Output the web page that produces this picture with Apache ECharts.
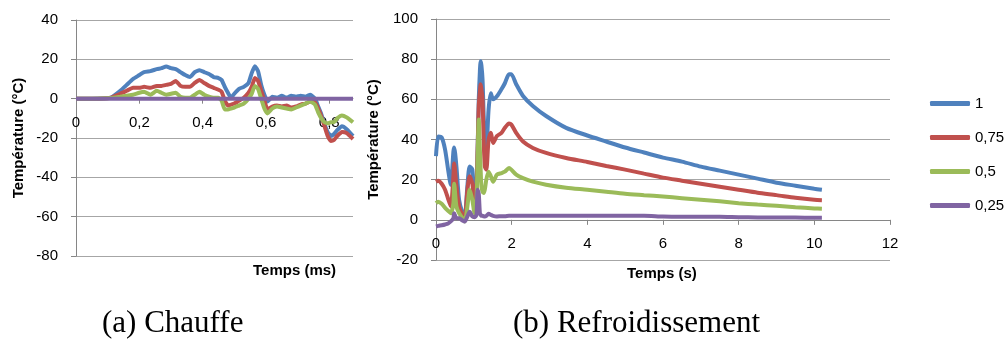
<!DOCTYPE html>
<html>
<head>
<meta charset="utf-8">
<script src="https://cdn.jsdelivr.net/npm/echarts@6/dist/echarts.min.js"></script>
<style>
html,body{margin:0;padding:0;background:#fff;}
#chart{width:1005px;height:342px;}
</style>
</head>
<body>
<div id="chart"></div>
<script>
// ---------- Data: (a) Chauffe ----------
const heatTime = [0, 0.05, 0.11, 0.14, 0.16, 0.18, 0.2, 0.215, 0.235, 0.255, 0.27, 0.285, 0.3, 0.315, 0.33, 0.345, 0.36, 0.375, 0.39, 0.405, 0.42, 0.435, 0.45, 0.46, 0.47, 0.48, 0.49, 0.5, 0.515, 0.53, 0.545, 0.555, 0.565, 0.575, 0.585, 0.595, 0.605, 0.62, 0.635, 0.65, 0.665, 0.68, 0.695, 0.71, 0.725, 0.74, 0.755, 0.765, 0.775, 0.785, 0.795, 0.805, 0.815, 0.825, 0.84, 0.855, 0.875];
const heat1 = [0, 0, 0.5, 4, 7, 10, 12, 13.5, 14, 15, 15.5, 16.3, 15.5, 15, 13.5, 12, 11, 13.5, 14.5, 13.5, 12.5, 11, 10.5, 9.5, 6, 3, 0.5, 2.5, 5, 6, 8, 13, 16.5, 14, 7, 2, -1.5, 1, 0.5, 1.5, 0.5, 1.5, 1, 1.5, 1, 2, 0, -4, -8, -13, -17, -19, -18, -16, -14, -15.5, -19];
const heat075 = [0, 0, 0.5, 2.5, 4, 5.5, 5.5, 6, 5.5, 6.5, 6.5, 7, 7.5, 9, 6.5, 6, 6, 8, 9.5, 8, 6.5, 5.5, 4.5, 3.5, -1, -3.5, -3, -2.5, -1, 0.5, 3, 6, 10.5, 9, 4, -1, -5.5, -4, -3.5, -4, -3.5, -4.5, -4, -3, -2.5, -1.5, -2, -5, -9, -14, -19, -21.5, -21, -19, -17, -17.5, -20.5];
const heat05 = [0, 0, 0.3, 1, 1.5, 2, 3, 3.5, 2, 4, 3, 2, 2.5, 3, 1, 0.5, 0.5, 2, 3.5, 2, 1, 0.5, 0.5, -1, -5.5, -5.5, -5, -4.5, -3.5, -2.5, 0, 2.5, 6.5, 5, 0, -5, -7.5, -5, -4, -4.5, -5, -5.5, -4.5, -3.5, -2.5, -1.5, -3, -7, -10, -12, -12.5, -12, -12, -10, -8.5, -9.5, -12];
const heat025 = [0, 0, 0, 0, 0, 0, 0, 0, 0, 0, 0, 0, 0, 0, 0, 0, 0, 0, 0, 0, 0, 0, 0, 0, 0, 0, 0, 0, 0, 0, 0, 0, 0, 0, 0, 0, 0, 0, 0, 0, 0, 0, 0, 0, 0, 0, 0, 0, 0, 0, 0, 0, 0, 0, 0, 0, 0];

// ---------- Data: (b) Refroidissement ----------
const coolTime = [0, 0.06, 0.15, 0.24, 0.32, 0.39, 0.46, 0.48, 0.54, 0.61, 0.7, 0.76, 0.83, 0.89, 0.96, 1.02, 1.07, 1.1, 1.13, 1.16, 1.18, 1.2, 1.23, 1.26, 1.29, 1.33, 1.39, 1.45, 1.51, 1.61, 1.73, 1.82, 1.93, 1.99, 2.12, 2.3, 2.56, 2.91, 3.44, 4, 4.5, 5, 5.5, 6, 6.5, 7, 7.5, 8, 8.5, 9, 9.5, 10, 10.2];
const cool1 = [31.7, 41.5, 41, 35, 25, 17.5, 34, 36, 26.5, 10, 3.5, 2, 17, 26.5, 25, 10, 14, 35, 60, 74, 79, 77, 70, 52, 40, 35, 55, 63, 60, 61.5, 65, 68, 72.5, 72.5, 67.5, 61.7, 56.7, 51.7, 45.8, 42, 39, 36, 33.5, 31, 29, 26.5, 24.5, 22.5, 20.5, 18.5, 17, 15.5, 15];
const cool075 = [19, 19.5, 18, 15, 10.5, 6.7, 21.7, 28, 17, 6.7, 2.5, 1, 15, 21.7, 18, 6.7, 16.7, 35, 56.7, 64, 67.5, 65, 60, 40, 26.7, 25, 40, 43.3, 38.3, 41.7, 43.3, 45.8, 48, 47.5, 43.3, 39, 35.8, 33.3, 30.8, 28.8, 26.8, 25, 23, 21, 19.5, 18, 16.5, 15, 13.5, 12.3, 11, 10, 9.8];
const cool05 = [8.3, 9, 8, 6, 4.5, 3.3, 8.3, 18, 6.7, 3.3, 0.8, -0.8, 6.7, 15, 10, 3.3, 10, 30, 50, 35, 25, 16.7, 14, 13.3, 15, 20, 24, 21.7, 19, 22.5, 23.3, 24, 25.8, 25, 22.5, 20.8, 19, 17.5, 16, 15, 14, 13, 12.3, 11.6, 10.8, 10, 9.2, 8.3, 7.6, 7, 6.3, 5.7, 5.5];
const cool025 = [-3.3, -3, -2.7, -2.3, -1.8, -0.8, 0.8, 3.3, 0.8, 0.8, -0.3, -0.8, 1.7, 4, 1.7, 1.3, 2.5, 15, 13, 3.3, 2.5, 2, 2, 1.8, 1.7, 2, 3, 2.5, 2, 1.7, 1.8, 1.8, 2, 2, 2, 2, 2, 2, 2, 2, 2, 2, 2, 1.6, 1.5, 1.5, 1.5, 1.3, 1.2, 1.2, 1.1, 1, 1];

const seriesNames = ['1', '0,75', '0,5', '0,25'];
const heatYTicks = {min: -80, max: 40, interval: 20};
const coolYTicks = {min: -20, max: 100, interval: 20};
const coolXTicks = {min: 0, max: 12, interval: 2};
const heatXTicks = {min: 0, max: 0.875, interval: 0.2};

const colors = ['#4F81BD', '#C0504D', '#9BBB59', '#8064A2'];

function zip(xs, ys) { return xs.map((x, i) => [x, ys[i]]); }
const comma = v => String(+(+v).toFixed(2)).replace('.', ',');

// grid geometry (pixels)
const gHeat = {left: 76, top: 20, width: 277, height: 236};
const gCool = {left: 436, top: 19, width: 454, height: 241};
// distance from grid bottom to the y = 0 line, so the x axis sits on zero
const heatZeroOffset = -gHeat.height * (0 - heatYTicks.min) / (heatYTicks.max - heatYTicks.min);
const coolZeroOffset = -gCool.height * (0 - coolYTicks.min) / (coolYTicks.max - coolYTicks.min);

const labelFont = {fontFamily: 'Liberation Sans', fontSize: 15, color: '#000'};
const gridLine = {show: true, lineStyle: {color: '#a6a6a6', width: 1}};
const xAxisLine = {show: true, onZero: false, lineStyle: {color: '#868686', width: 1}};
const tick = {show: true, length: 5, inside: false, lineStyle: {color: '#868686'}};

const heatData = [heat1, heat075, heat05, heat025];
const coolData = [cool1, cool075, cool05, cool025];

const series = [];
heatData.forEach((d, i) => series.push({
  type: 'line', name: seriesNames[i], xAxisIndex: 0, yAxisIndex: 0,
  data: zip(heatTime, d), showSymbol: false, symbol: 'none',
  lineStyle: {width: 4, color: colors[i]}, itemStyle: {color: colors[i]},
  smooth: 0.15, animation: false
}));
coolData.forEach((d, i) => series.push({
  type: 'line', name: seriesNames[i], xAxisIndex: 1, yAxisIndex: 1,
  data: zip(coolTime, d), showSymbol: false, symbol: 'none',
  lineStyle: {width: 4, color: colors[i]}, itemStyle: {color: colors[i]},
  smooth: 0.25, animation: false
}));

const chart = echarts.init(document.getElementById('chart'), null, {renderer: 'canvas'});
chart.setOption({
  backgroundColor: '#fff',
  animation: false,
  color: colors,
  grid: [gHeat, gCool],
  xAxis: [
    {type: 'value', gridIndex: 0, position: 'bottom', offset: heatZeroOffset,
     min: heatXTicks.min, max: heatXTicks.max, interval: heatXTicks.interval,
     axisLine: xAxisLine, axisTick: tick, splitLine: {show: false},
     axisLabel: Object.assign({margin: 17, showMaxLabel: false, formatter: comma}, labelFont)},
    {type: 'value', gridIndex: 1, position: 'bottom', offset: coolZeroOffset,
     min: coolXTicks.min, max: coolXTicks.max, interval: coolXTicks.interval,
     axisLine: xAxisLine, axisTick: tick, splitLine: {show: false},
     axisLabel: Object.assign({margin: 17, formatter: comma}, labelFont)}
  ],
  yAxis: [
    {type: 'value', gridIndex: 0, min: heatYTicks.min, max: heatYTicks.max, interval: heatYTicks.interval,
     name: 'Température (°C)', nameLocation: 'middle', nameGap: 50,
     nameTextStyle: {fontFamily: 'Liberation Sans', fontWeight: 'bold', fontSize: 15, color: '#000'},
     axisLine: {show: true, onZero: false, lineStyle: {color: '#868686'}}, axisTick: tick, splitLine: gridLine,
     axisLabel: Object.assign({margin: 18}, labelFont)},
    {type: 'value', gridIndex: 1, min: coolYTicks.min, max: coolYTicks.max, interval: coolYTicks.interval,
     name: 'Température (°C)', nameLocation: 'middle', nameGap: 55,
     nameTextStyle: {fontFamily: 'Liberation Sans', fontWeight: 'bold', fontSize: 15, color: '#000'},
     axisLine: {show: true, onZero: false, lineStyle: {color: '#868686'}}, axisTick: tick, splitLine: gridLine,
     axisLabel: Object.assign({margin: 18}, labelFont)}
  ],
  legend: {
    orient: 'vertical', left: 925, top: 91, itemWidth: 40, itemHeight: 5, itemGap: 19,
    icon: 'roundRect', data: seriesNames,
    textStyle: {fontFamily: 'Liberation Sans', fontSize: 15, color: '#000'}
  },
  graphic: [
    {type: 'text', left: 253, top: 263, style: {text: 'Temps (ms)', font: 'bold 15px "Liberation Sans"', fill: '#000'}},
    {type: 'text', left: 627, top: 266, style: {text: 'Temps (s)', font: 'bold 15px "Liberation Sans"', fill: '#000'}},
    {type: 'text', left: 102, top: 308, style: {text: '(a) Chauffe', font: '31px "Liberation Serif"', fill: '#000'}},
    {type: 'text', left: 513, top: 308, style: {text: '(b) Refroidissement', font: '31px "Liberation Serif"', fill: '#000'}}
  ],
  series: series
});
</script>
</body>
</html>
